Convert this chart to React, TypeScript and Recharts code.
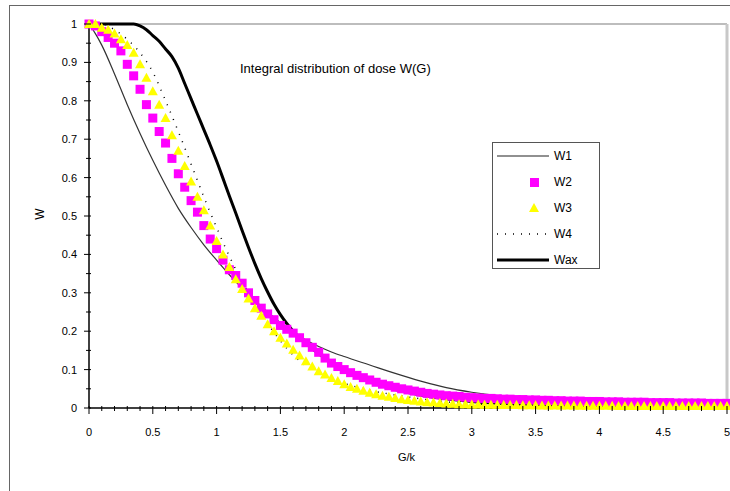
import { Line, LineChart, ReferenceLine, XAxis, YAxis } from 'recharts';

// grid of G/k for the marker series (step 0.05)
const gGrid = Array.from({ length: 101 }, (_, i) => Math.round(i * 5) / 100);

const w2 = [
  1.0, 0.995, 0.98, 0.965, 0.95, 0.93, 0.895, 0.865, 0.83, 0.79,
  0.755, 0.72, 0.69, 0.65, 0.61, 0.575, 0.54, 0.51, 0.475, 0.44,
  0.415, 0.385, 0.36, 0.345, 0.325, 0.3, 0.28, 0.26, 0.245, 0.23,
  0.215, 0.205, 0.195, 0.183, 0.17, 0.158, 0.145, 0.13, 0.117, 0.108,
  0.1, 0.092, 0.085, 0.079, 0.073, 0.067, 0.062, 0.058, 0.054, 0.05,
  0.047, 0.044, 0.041, 0.038, 0.036, 0.034, 0.032, 0.031, 0.03, 0.028,
  0.027, 0.026, 0.025, 0.025, 0.024, 0.023, 0.023, 0.022, 0.022, 0.021,
  0.021, 0.02, 0.02, 0.019, 0.019, 0.018, 0.018, 0.018, 0.017, 0.017,
  0.017, 0.016, 0.016, 0.016, 0.015, 0.015, 0.015, 0.015, 0.014, 0.014,
  0.014, 0.014, 0.013, 0.013, 0.013, 0.013, 0.013, 0.012, 0.012, 0.012,
  0.012,
];

const w3 = [
  1.0, 1.0, 0.99, 0.985, 0.975, 0.96, 0.945, 0.925, 0.895, 0.86,
  0.825, 0.79, 0.755, 0.71, 0.67, 0.63, 0.59, 0.55, 0.515, 0.475,
  0.435, 0.4, 0.367, 0.335, 0.31, 0.285, 0.26, 0.24, 0.218, 0.2,
  0.183, 0.168, 0.152, 0.137, 0.122, 0.108, 0.096, 0.087, 0.078, 0.07,
  0.062, 0.055, 0.05, 0.045, 0.04, 0.036, 0.032, 0.029, 0.026, 0.023,
  0.021, 0.019, 0.017, 0.015, 0.014, 0.013, 0.012, 0.011, 0.01, 0.0095,
  0.009, 0.0088, 0.0086, 0.0084, 0.0082, 0.008, 0.0078, 0.0076, 0.0074, 0.0072,
  0.007, 0.0068, 0.0066, 0.0065, 0.0064, 0.0063, 0.0062, 0.0061, 0.006, 0.0059,
  0.0058, 0.0057, 0.0056, 0.0055, 0.0055, 0.0054, 0.0054, 0.0053, 0.0053, 0.0052,
  0.0052, 0.0051, 0.0051, 0.005, 0.005, 0.005, 0.005, 0.005, 0.005, 0.005,
  0.005,
];

const gW1 = [0, 0.05, 0.1, 0.2, 0.3, 0.4, 0.5, 0.6, 0.7, 0.8, 0.9, 1.0, 1.1, 1.2, 1.3, 1.4, 1.5, 1.6, 1.7, 1.8, 1.9, 2.0, 2.2, 2.4, 2.6, 2.8, 3.0, 3.2, 3.4, 3.6, 3.8, 4.0, 4.5, 5.0];
const w1 = [1.0, 0.975, 0.945, 0.87, 0.79, 0.715, 0.645, 0.58, 0.52, 0.47, 0.425, 0.385, 0.347, 0.312, 0.28, 0.25, 0.222, 0.197, 0.177, 0.16, 0.146, 0.134, 0.112, 0.09, 0.07, 0.053, 0.041, 0.032, 0.026, 0.022, 0.019, 0.016, 0.011, 0.007];

const gW4 = [0, 0.1, 0.2, 0.3, 0.4, 0.5, 0.6, 0.7, 0.8, 0.9, 1.0, 1.1, 1.2, 1.3, 1.4, 1.5, 1.6, 1.7, 1.8, 1.9, 2.0, 2.2, 2.4, 2.6, 2.8, 3.0, 3.5, 4.0, 5.0];
const w4 = [1.0, 1.0, 0.985, 0.96, 0.925, 0.875, 0.8, 0.72, 0.635, 0.55, 0.47, 0.395, 0.33, 0.27, 0.22, 0.175, 0.138, 0.11, 0.088, 0.074, 0.064, 0.046, 0.034, 0.024, 0.016, 0.011, 0.005, 0.003, 0.001];

const gWax = [0, 0.1, 0.2, 0.3, 0.35, 0.4, 0.45, 0.5, 0.55, 0.6, 0.65, 0.7, 0.75, 0.8, 0.85, 0.9, 0.95, 1.0, 1.05, 1.1, 1.15, 1.2, 1.25, 1.3, 1.35, 1.4, 1.45, 1.5, 1.55, 1.6, 1.7, 1.8, 1.9, 2.0, 2.2, 2.4, 2.6, 2.8, 3.0, 3.5, 4.0, 5.0];
const wax = [1, 1, 1, 1, 1, 0.995, 0.985, 0.97, 0.955, 0.935, 0.915, 0.885, 0.845, 0.805, 0.765, 0.725, 0.685, 0.643, 0.598, 0.552, 0.508, 0.462, 0.418, 0.376, 0.337, 0.302, 0.27, 0.243, 0.22, 0.2, 0.168, 0.141, 0.118, 0.098, 0.068, 0.048, 0.034, 0.024, 0.017, 0.008, 0.004, 0.001];

const xTicks = Array.from({ length: 51 }, (_, i) => Math.round(i * 10) / 100);
const yTicks = Array.from({ length: 21 }, (_, i) => Math.round(i * 5) / 100);

const toRows = (g: number[], w: number[]) => g.map((x, i) => ({ g: x, w: w[i] }));

const font = '"Liberation Sans", Arial, sans-serif';

const XTick = (props: any) => {
  const { x, y, payload } = props;
  const v = payload.value;
  const major = Math.abs(v * 2 - Math.round(v * 2)) < 1e-6;
  return (
    <g>
      <line x1={x} x2={x} y1={y - 2} y2={y + (major ? 6 : 3)} stroke="#000" strokeWidth={1} />
      {major && (
        <text x={x} y={y + 28} textAnchor="middle" fontSize={11} fontFamily={font} fill="#000">
          {String(v)}
        </text>
      )}
    </g>
  );
};

const YTick = (props: any) => {
  const { x, y, payload } = props;
  const v = payload.value;
  const major = Math.abs(v * 10 - Math.round(v * 10)) < 1e-6;
  return (
    <g>
      <line x1={x - (major ? 5 : 3)} x2={x + 2} y1={y} y2={y} stroke="#000" strokeWidth={1} />
      {major && (
        <text x={x - 12} y={y + 4} textAnchor="end" fontSize={11} fontFamily={font} fill="#000">
          {String(v)}
        </text>
      )}
    </g>
  );
};

const Square = (props: any) => {
  const { cx, cy } = props;
  if (cx == null || cy == null) return null;
  return <rect x={cx - 4.5} y={cy - 4.5} width={9} height={9} fill="#ff00ff" />;
};

const Triangle = (props: any) => {
  const { cx, cy } = props;
  if (cx == null || cy == null) return null;
  return <polygon points={`${cx},${cy - 5} ${cx - 5},${cy + 4} ${cx + 5},${cy + 4}`} fill="#ffff00" />;
};

const LegendBox = () => (
  <div
    style={{
      position: 'absolute',
      left: 492,
      top: 142,
      width: 106,
      height: 125,
      border: '1px solid #555',
      background: '#fff',
      fontFamily: font,
      fontSize: 12,
    }}
  >
    <svg width={106} height={125} style={{ position: 'absolute', left: 0, top: 0 }}>
      <line x1={4} x2={56} y1={13} y2={13} stroke="#222" strokeWidth={1.2} />
      <rect x={37} y={35} width={9} height={9} fill="#ff00ff" />
      <polygon points="41,60 36,69 46,69" fill="#ffff00" />
      <line x1={4} x2={56} y1={91} y2={91} stroke="#000" strokeWidth={1.5} strokeDasharray="1 7" />
      <line x1={4} x2={56} y1={117} y2={117} stroke="#000" strokeWidth={3} />
      {['W1', 'W2', 'W3', 'W4', 'Wax'].map((t, i) => (
        <text key={t} x={61} y={17 + i * 26} fontSize={12} fontFamily={font} fill="#000">
          {t}
        </text>
      ))}
    </svg>
  </div>
);

export default function App() {
  return (
    <div style={{ position: 'absolute', left: 0, top: 0, width: 730, height: 491, background: '#fff', fontFamily: font }}>
      <div style={{ position: 'absolute', left: 9, top: 5, width: 721, height: 486, borderTop: '1px solid #666', borderLeft: '1px solid #666' }} />
      <LineChart width={730} height={491} margin={{ top: 24, right: 3, left: 0, bottom: 0 }}>
        <XAxis
          type="number"
          dataKey="g"
          domain={[0, 5]}
          ticks={xTicks}
          interval={0}
          tick={<XTick />}
          tickLine={false}
          tickSize={0}
          tickMargin={0}
          height={83}
          axisLine={{ stroke: '#000', strokeWidth: 1.5 }}
          allowDuplicatedCategory={false}
        />
        <YAxis
          type="number"
          dataKey="w"
          domain={[0, 1]}
          ticks={yTicks}
          interval={0}
          tick={<YTick />}
          tickLine={false}
          tickSize={0}
          tickMargin={0}
          width={89}
          axisLine={{ stroke: '#000', strokeWidth: 1.5 }}
        />
        <ReferenceLine y={1} stroke="#bdbdbd" strokeWidth={2} />
        <ReferenceLine x={5} stroke="#c8c8c8" strokeWidth={3} />
        <Line data={toRows(gGrid, w2)} dataKey="w" stroke="none" dot={<Square />} activeDot={false} isAnimationActive={false} legendType="none" />
        <Line data={toRows(gGrid, w3)} dataKey="w" stroke="none" dot={<Triangle />} activeDot={false} isAnimationActive={false} legendType="none" />
        <Line data={toRows(gW4, w4)} dataKey="w" type="monotone" stroke="#000" strokeWidth={1.5} strokeDasharray="1 7" dot={false} isAnimationActive={false} />
        <Line data={toRows(gW1, w1)} dataKey="w" type="monotone" stroke="#333" strokeWidth={1.2} dot={false} isAnimationActive={false} />
        <Line data={toRows(gWax, wax)} dataKey="w" type="monotone" stroke="#000" strokeWidth={3} dot={false} isAnimationActive={false} />
      </LineChart>
      <div style={{ position: 'absolute', left: 240, top: 61, fontSize: 13, color: '#000', whiteSpace: 'nowrap' }}>
        Integral distribution of dose W(G)
      </div>
      <div style={{ position: 'absolute', left: 34, top: 207, fontSize: 12, transform: 'rotate(-90deg)' }}>W</div>
      <div style={{ position: 'absolute', left: 398, top: 451, fontSize: 11 }}>G/k</div>
      <LegendBox />
    </div>
  );
}
